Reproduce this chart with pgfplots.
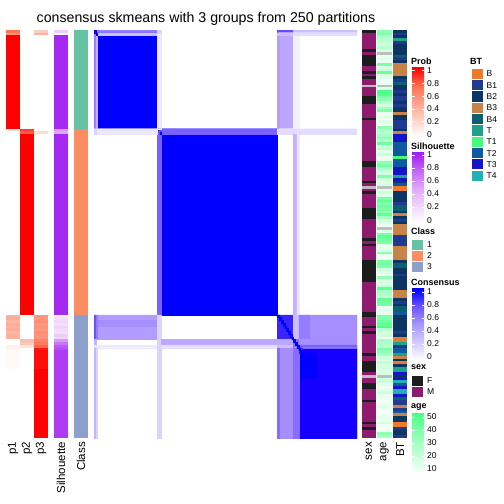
\documentclass[border=0pt]{standalone}
\usepackage{pgfplots}
\usepackage{pgfplotstable}
\pgfplotsset{compat=1.18}
\usepackage{fontspec}
\setmainfont{Liberation Sans}

\definecolor{cl1}{HTML}{66C2A5}
\definecolor{cl2}{HTML}{FC8D62}
\definecolor{cl3}{HTML}{8DA0CB}
\definecolor{sexF}{HTML}{1B1D1E}
\definecolor{sexM}{HTML}{8E1B6E}
\definecolor{naC}{HTML}{BEBEBE}
\definecolor{btB}{HTML}{F07A2A}
\definecolor{btB1}{HTML}{1F3A93}
\definecolor{btB2}{HTML}{0C3563}
\definecolor{btB3}{HTML}{C88446}
\definecolor{btB4}{HTML}{0A5F73}
\definecolor{btT}{HTML}{1FA088}
\definecolor{btT1}{HTML}{42FC7A}
\definecolor{btT2}{HTML}{0D5AA0}
\definecolor{btT3}{HTML}{1414C8}
\definecolor{btT4}{HTML}{1FB0B8}
% prob ramp
\definecolor{pr0}{HTML}{FFFFFF}
\definecolor{pr1}{HTML}{FFD2C6}
\definecolor{pr2}{HTML}{FFA38C}
\definecolor{pr3}{HTML}{FF6E50}
\definecolor{pr4}{HTML}{FF0000}
% silhouette ramp
\definecolor{si1}{HTML}{F2D6FC}
\definecolor{si2}{HTML}{DFA6F9}
\definecolor{si3}{HTML}{C566F5}
\definecolor{si4}{HTML}{A020F0}
% consensus ramp
\definecolor{co1}{HTML}{D4CAFF}
\definecolor{co2}{HTML}{A896FF}
\definecolor{co3}{HTML}{6E58FF}
\definecolor{co4}{HTML}{0000FF}
% age ramp
\definecolor{ag0}{HTML}{F4FFF7}
\definecolor{ag1}{HTML}{A6FFC4}
\definecolor{ag2}{HTML}{4BFF87}
% consensus block colours
\definecolor{C100}{HTML}{0000FF}
\definecolor{C95}{HTML}{1500FF}
\definecolor{C85}{HTML}{3A24FF}
\definecolor{C70}{HTML}{6A4CFF}
\definecolor{C65}{HTML}{7A60FF}
\definecolor{C60}{HTML}{876EFF}
\definecolor{C55}{HTML}{957CFF}
\definecolor{C50}{HTML}{A68EFF}
\definecolor{C45}{HTML}{B39CFF}
\definecolor{C40}{HTML}{BCA7FF}
\definecolor{C35}{HTML}{C5B3FF}
\definecolor{C30}{HTML}{CDBEFF}
\definecolor{C20}{HTML}{DCD2FF}
\definecolor{C15}{HTML}{E4DCFF}
\definecolor{C10}{HTML}{ECE6FF}
\definecolor{C05}{HTML}{F4F0FF}

\pgfdeclareverticalshading{probsh}{100bp}{color(0bp)=(pr0); color(25bp)=(pr0); color(37.5bp)=(pr1); color(50bp)=(pr2); color(62.5bp)=(pr3); color(75bp)=(pr4); color(100bp)=(pr4)}
\pgfdeclareverticalshading{silsh}{100bp}{color(0bp)=(white); color(25bp)=(white); color(37.5bp)=(si1); color(50bp)=(si2); color(62.5bp)=(si3); color(75bp)=(si4); color(100bp)=(si4)}
\pgfdeclareverticalshading{consh}{100bp}{color(0bp)=(white); color(25bp)=(white); color(37.5bp)=(co1); color(50bp)=(co2); color(62.5bp)=(co3); color(75bp)=(co4); color(100bp)=(co4)}
\pgfdeclareverticalshading{agesh}{100bp}{color(0bp)=(ag0); color(25bp)=(ag0); color(50bp)=(ag1); color(75bp)=(ag2); color(100bp)=(ag2)}

\pgfplotsset{
  colormap={probcm}{color(0pt)=(pr0) color(25pt)=(pr1) color(50pt)=(pr2) color(75pt)=(pr3) color(100pt)=(pr4)},
  colormap={silcm}{color(0pt)=(white) color(25pt)=(si1) color(50pt)=(si2) color(75pt)=(si3) color(100pt)=(si4)},
  colormap={agecm}{color(0pt)=(naC) color(16pt)=(naC) color(20pt)=(ag0) color(60pt)=(ag1) color(100pt)=(ag2)},
}

\pgfdeclareplotmark{cellA}{\pgfpathrectangle{\pgfqpoint{-7pt}{-1.45pt}}{\pgfqpoint{14pt}{2.9pt}}\pgfusepathqfill}
\pgfdeclareplotmark{cellB}{\pgfpathrectangle{\pgfqpoint{-7.15pt}{-1.45pt}}{\pgfqpoint{14.3pt}{2.9pt}}\pgfusepathqfill}

\pgfplotstableread{
i p1 p2 p3 sil cls sex age bt
0 0.72 0 0.28 0.30 1 F 35 B2
1 0.58 0 0.42 0.03 1 M 38 B1
2 1 0 0 0.97 1 M 30 B2
3 1 0 0 0.97 1 M 25 T
4 1 0 0 0.97 1 M 22 B1
5 1 0 0 0.97 1 M 20 B2
6 1 0 0 0.97 1 M 25 B2
7 1 0 0 0.97 1 F 18 B2
8 1 0 0 0.97 1 M 0 B2
9 1 0 0 0.97 1 F 12 B4
10 1 0 0 0.97 1 F 15 B1
11 1 0 0 0.97 1 F 12 B2
12 1 0 0 0.97 1 F 40 B3
13 1 0 0 0.97 1 M 15 B3
14 1 0 0 0.97 1 M 20 B3
15 1 0 0 0.97 1 F 42 B3
16 1 0 0 0.97 1 M 18 B3
17 1 0 0 0.97 1 F 15 B2
18 1 0 0 0.97 1 M 12 B1
19 1 0 0 0.97 1 M 14 B4
20 1 0 0 0.97 1 N 0 B2
21 1 0 0 0.97 1 M 15 B2
22 1 0 0 0.97 1 M 50 B1
23 1 0 0 0.97 1 M 48 B2
24 1 0 0 0.97 1 F 40 B1
25 1 0 0 0.97 1 F 35 B1
26 1 0 0 0.97 1 F 25 B2
27 1 0 0 0.97 1 M 20 B1
28 1 0 0 0.97 1 M 30 B2
29 1 0 0 0.97 1 M 38 B2
30 1 0 0 0.97 1 M 12 B3
31 1 0 0 0.97 1 M 14 B2
32 1 0 0 0.97 1 F 12 B2
33 1 0 0 0.97 1 M 15 B1
34 1 0 0 0.97 1 M 12 B1
35 1 0 0 0.97 1 M 35 B1
36 0.15 0.85 0 0.55 2 M 28 B2
37 0 0.8 0.2 0.5 2 M 25 B3
38 0 1 0 0.97 2 M 30 T3
39 0 1 0 0.97 2 M 35 T3
40 0 1 0 0.97 2 M 25 T3
41 0 1 0 0.97 2 M 42 T2
42 0 1 0 0.97 2 M 20 T2
43 0 1 0 0.97 2 M 25 T2
44 0 1 0 0.97 2 M 15 T2
45 0 1 0 0.97 2 M 20 T2
46 0 1 0 0.97 2 M 12 T1
47 0 1 0 0.97 2 M 13 T2
48 0 1 0 0.97 2 F 35 T2
49 0 1 0 0.97 2 F 40 T2
50 0 1 0 0.97 2 M 30 T3
51 0 1 0 0.97 2 M 22 T3
52 0 1 0 0.97 2 M 18 T3
53 0 1 0 0.97 2 M 38 T
54 0 1 0 0.97 2 M 20 T3
55 0 1 0 0.97 2 F 15 B2
56 0 1 0 0.97 2 M 18 T2
57 0 1 0 0.97 2 N 0 B
58 0 1 0 0.97 2 M 15 B
59 0 1 0 0.97 2 F 20 B2
60 0 1 0 0.97 2 M 15 B2
61 0 1 0 0.97 2 M 40 B2
62 0 1 0 0.97 2 M 45 B2
63 0 1 0 0.97 2 M 38 B1
64 0 1 0 0.97 2 M 42 B4
65 0 1 0 0.97 2 F 40 B4
66 0 1 0 0.97 2 F 35 B2
67 0 1 0 0.97 2 F 45 B3
68 0 1 0 0.97 2 F 30 B2
69 0 1 0 0.97 2 M 20 B1
70 0 1 0 0.97 2 M 15 B2
71 0 1 0 0.97 2 M 12 B3
72 0 1 0 0.97 2 M 0 B3
73 0 1 0 0.97 2 M 15 B3
74 0 1 0 0.97 2 M 40 B3
75 0 1 0 0.97 2 M 45 B1
76 0 1 0 0.97 2 F 42 B1
77 0 1 0 0.97 2 M 38 B1
78 0 1 0 0.97 2 F 15 B1
79 0 1 0 0.97 2 M 12 B3
80 0 1 0 0.97 2 M 18 B3
81 0 1 0 0.97 2 M 35 B3
82 0 1 0 0.97 2 M 12 B3
83 0 1 0 0.97 2 M 10 B3
84 0 1 0 0.97 2 F 40 B2
85 0 1 0 0.97 2 F 42 B4
86 0 1 0 0.97 2 F 38 B4
87 0 1 0 0.97 2 F 20 B2
88 0 1 0 0.97 2 F 15 B2
89 0 1 0 0.97 2 F 12 B1
90 0 1 0 0.97 2 F 35 B2
91 0 1 0 0.97 2 F 15 B2
92 0 1 0 0.97 2 M 18 B2
93 0 1 0 0.97 2 M 22 B2
94 0 1 0 0.97 2 M 45 B2
95 0 1 0 0.97 2 M 30 B3
96 0 1 0 0.97 2 M 28 B3
97 0 1 0 0.97 2 M 20 B3
98 0 1 0 0.97 2 M 45 B2
99 0 1 0 0.97 2 M 42 B1
100 0 1 0 0.97 2 M 40 B2
101 0 1 0 0.97 2 M 12 B4
102 0 1 0 0.97 2 M 15 B4
103 0 1 0 0.97 2 F 14 T2
104 0.42 0 0.58 0.10 3 F 40 B2
105 0.45 0 0.55 0.20 3 M 38 B2
106 0.40 0 0.60 0.25 3 M 42 B2
107 0.45 0 0.55 0.20 3 M 45 B2
108 0.42 0 0.58 0.28 3 F 50 B2
109 0.45 0 0.55 0.22 3 M 25 B2
110 0.40 0 0.60 0.20 3 F 18 B1
111 0.43 0 0.57 0.30 3 M 20 B2
112 0.42 0 0.58 0.25 3 M 10 B
113 0 0.35 0.65 0.55 3 M 30 B3
114 0 0.30 0.70 0.70 3 M 28 T
115 0.08 0.15 0.77 0.80 3 M 25 B1
116 0.05 0 0.95 0.85 3 M 40 T2
117 0.03 0 0.97 0.9 3 M 35 T2
118 0.03 0 0.97 0.9 3 F 30 T
119 0.03 0 0.97 0.9 3 M 20 B3
120 0.03 0 0.97 0.9 3 M 15 B2
121 0.03 0 0.97 0.9 3 F 22 B
122 0.03 0 0.97 0.9 3 F 18 B2
123 0.03 0 0.97 0.9 3 F 20 T
124 0 0 1 0.9 3 F 15 T
125 0 0 1 0.9 3 M 18 T3
126 0 0 1 0.9 3 N 0 B2
127 0 0 1 0.9 3 M 18 T3
128 0 0 1 0.9 3 M 20 T4
129 0 0 1 0.9 3 F 15 T2
130 0 0 1 0.9 3 F 12 T3
131 0 0 1 0.9 3 M 15 T4
132 0 0 1 0.9 3 M 20 T4
133 0 0 1 0.9 3 M 14 T3
134 0 0 1 0.9 3 M 12 B4
135 0 0 1 0.9 3 F 10 B1
136 0 0 1 0.9 3 M 12 B1
137 0 0 1 0.9 3 M 15 B3
138 0 0 1 0.9 3 M 12 B1
139 0 0 1 0.9 3 M 10 T2
140 0 0 1 0.9 3 M 12 B3
141 0 0 1 0.9 3 M 14 B2
142 0 0 1 0.9 3 M 12 B2
143 0 0 1 0.9 3 F 18 B
144 0 0 1 0.9 3 M 12 B
145 0 0 1 0.9 3 F 10 B1
146 0 0 1 0.9 3 M 12 B2
147 0 0 1 0.9 3 M 35 B2
148 0 0 1 0.9 3 M 30 B1
}\datatab

\newcommand{\blk}[5]{\addplot[draw=#5,line width=0.15pt,fill=#5] coordinates {(#1,#3) (#2,#3) (#2,#4) (#1,#4) (#1,#3)};}
\newcommand{\tfont}{\fontsize{9}{10}\selectfont\bfseries}
\newcommand{\lfont}{\fontsize{8.5}{10}\selectfont}

\begin{document}
\begin{tikzpicture}
\begin{axis}[at={(0pt,0pt)}, anchor=south west, width=504pt, height=504pt, scale only axis,
  xmin=0, xmax=504, ymin=0, ymax=504, y dir=reverse, hide axis, clip=false,
  point meta min=0, point meta max=1]
\addplot[scatter, only marks, mark=cellA, colormap name=probcm, point meta=explicit]
  table[x expr=13, y expr=30+(\thisrow{i}+0.5)*2.7383, meta=p1] {\datatab};
\addplot[scatter, only marks, mark=cellA, colormap name=probcm, point meta=explicit]
  table[x expr=27, y expr=30+(\thisrow{i}+0.5)*2.7383, meta=p2] {\datatab};
\addplot[scatter, only marks, mark=cellA, colormap name=probcm, point meta=explicit]
  table[x expr=41, y expr=30+(\thisrow{i}+0.5)*2.7383, meta=p3] {\datatab};
\addplot[scatter, only marks, mark=cellA, colormap name=silcm, point meta=explicit]
  table[x expr=61, y expr=30+(\thisrow{i}+0.5)*2.7383, meta=sil] {\datatab};
\addplot[scatter, only marks, mark=cellA, point meta=explicit symbolic,
  scatter/classes={1={fill=cl1},2={fill=cl2},3={fill=cl3}}]
  table[x expr=81, y expr=30+(\thisrow{i}+0.5)*2.7383, meta=cls] {\datatab};
\addplot[scatter, only marks, mark=cellB, point meta=explicit symbolic,
  scatter/classes={F={fill=sexF},M={fill=sexM},N={fill=naC}}]
  table[x expr=368.9, y expr=30+(\thisrow{i}+0.5)*2.7383, meta=sex] {\datatab};
\addplot[scatter, only marks, mark=cellB, colormap name=agecm, point meta={\thisrow{age}/50}]
  table[x expr=384.4, y expr=30+(\thisrow{i}+0.5)*2.7383] {\datatab};
\addplot[scatter, only marks, mark=cellB, point meta=explicit symbolic,
  scatter/classes={B={fill=btB},B1={fill=btB1},B2={fill=btB2},B3={fill=btB3},B4={fill=btB4},
    T={fill=btT},T1={fill=btT1},T2={fill=btT2},T3={fill=btT3},T4={fill=btT4}}]
  table[x expr=400.2, y expr=30+(\thisrow{i}+0.5)*2.7383, meta=bt] {\datatab};
\end{axis}

\begin{axis}[at={(94pt,66pt)}, anchor=south west, width=263pt, height=408pt, scale only axis,
  xmin=0, xmax=149, ymin=0, ymax=149, y dir=reverse, hide axis]
\blk{0}{36}{0}{36}{C100}
\blk{36}{104}{36}{104}{C100}
\blk{116}{149}{116}{149}{C95}
\blk{117}{126}{118}{127}{C100}
\blk{1}{36}{0}{1}{C55}
\blk{0}{1}{1}{36}{C55}
\blk{2}{36}{1}{2}{C30}
\blk{1}{2}{2}{36}{C35}
\blk{0}{1}{0}{1}{C100}
\blk{1}{2}{1}{2}{C100}
\blk{38}{104}{36}{38}{C65}
\blk{36}{38}{38}{104}{C65}
\blk{36}{37}{36}{37}{C100}
\blk{37}{38}{37}{38}{C100}
\blk{36}{37}{37}{38}{C70}
\blk{37}{38}{36}{37}{C70}
\blk{36}{38}{0}{36}{C10}
\blk{0}{36}{36}{38}{C10}
\blk{36}{38}{0}{1}{C20}
\blk{0}{1}{36}{38}{C20}
\blk{104}{113}{2}{36}{C40}
\blk{104}{105}{2}{36}{C45}
\blk{104}{113}{0}{1}{C70}
\blk{104}{113}{1}{2}{C30}
\blk{113}{116}{2}{36}{C05}
\blk{113}{116}{0}{1}{C30}
\blk{113}{116}{1}{2}{C15}
\blk{116}{149}{0}{1}{C30}
\blk{116}{149}{1}{2}{C15}
\blk{0}{36}{104}{113}{C45}
\blk{0}{36}{106}{108}{C50}
\blk{0}{1}{104}{113}{C70}
\blk{1}{2}{104}{113}{C55}
\blk{0}{1}{113}{115}{C35}
\blk{0}{36}{115}{116}{C10}
\blk{0}{1}{116}{149}{C35}
\blk{1}{2}{116}{149}{C20}
\blk{104}{149}{36}{38}{C15}
\blk{36}{38}{104}{149}{C20}
\blk{113}{115}{38}{104}{C35}
\blk{115}{116}{38}{104}{C10}
\blk{38}{104}{113}{115}{C40}
\blk{38}{104}{115}{116}{C15}
\blk{104}{113}{104}{113}{C85}
\blk{113}{116}{104}{113}{C30}
\blk{116}{149}{104}{113}{C50}
\blk{116}{122}{104}{113}{C55}
\blk{104}{113}{113}{115}{C40}
\blk{104}{113}{115}{116}{C30}
\blk{113}{116}{113}{116}{C60}
\blk{116}{149}{113}{115}{C50}
\blk{116}{149}{115}{116}{C65}
\blk{104}{113}{116}{149}{C50}
\blk{104}{105}{116}{149}{C60}
\blk{113}{116}{116}{149}{C60}
\blk{116}{118}{116}{118}{C85}
\blk{104}{105}{104}{105}{C100}
\blk{105}{106}{105}{106}{C100}
\blk{106}{107}{106}{107}{C100}
\blk{107}{108}{107}{108}{C100}
\blk{108}{109}{108}{109}{C100}
\blk{109}{110}{109}{110}{C100}
\blk{110}{111}{110}{111}{C100}
\blk{111}{112}{111}{112}{C100}
\blk{112}{113}{112}{113}{C100}
\blk{113}{114}{113}{114}{C100}
\blk{114}{115}{114}{115}{C100}
\blk{115}{116}{115}{116}{C100}
\blk{116}{117}{116}{117}{C100}
\blk{117}{118}{117}{118}{C100}
\end{axis}

\begin{scope}[x=1pt, y=-1pt, shift={(0pt,504pt)}]
\node[font=\fontsize{14.2}{16}\selectfont] at (206,18.5) {consensus skmeans with 3 groups from 250 partitions};
\foreach \xx/\tt in {13/p1,27/p2,41/p3,61/Silhouette,81/Class,368.9/sex,384.4/age,400.2/BT}{
  \node[rotate=90, anchor=east, font=\fontsize{11.5}{13}\selectfont, inner sep=0pt] at (\xx,442) {\tt};
}
\node[anchor=west, inner sep=0pt, font=\tfont] at (411,61) {Prob};
\shade[shading=probsh] (412,137) rectangle (424,68);
\node[anchor=west, inner sep=0pt, font=\tfont] at (411,146) {Silhouette};
\shade[shading=silsh] (412,223) rectangle (424,153);
\node[anchor=west, inner sep=0pt, font=\tfont] at (411,282) {Consensus};
\shade[shading=consh] (412,360) rectangle (424,289);
\node[anchor=west, inner sep=0pt, font=\tfont] at (411,407) {age};
\shade[shading=agesh] (412,472) rectangle (424,414);
\foreach \yy/\lab in {70.5/1,83.3/0.8,96.1/0.6,108.9/0.4,121.7/0.2,134.5/0,
  155/1,168/0.8,181/0.6,194/0.4,207/0.2,220.5/0,
  292/1,305/0.8,318/0.6,331/0.4,344/0.2,357/0,
  417/50,430/40,443/30,456/20,469/10}{
  \draw[white, line width=0.6pt] (412,\yy) -- (414.5,\yy);
  \draw[white, line width=0.6pt] (421.5,\yy) -- (424,\yy);
  \node[anchor=west, inner sep=0pt, font=\lfont] at (427,\yy) {\lab};
}
\node[anchor=west, inner sep=0pt, font=\tfont] at (411,231) {Class};
\foreach \yy/\cc/\lab in {245/cl1/1,256/cl2/2,267/cl3/3}{
  \fill[\cc] (412,\yy-5.2) rectangle (423,\yy+5.2);
  \node[anchor=west, inner sep=0pt, font=\lfont] at (427,\yy) {\lab};
}
\node[anchor=west, inner sep=0pt, font=\tfont] at (411,367) {sex};
\foreach \yy/\cc/\lab in {381/sexF/F,392/sexM/M}{
  \fill[\cc] (412,\yy-5.2) rectangle (423,\yy+5.2);
  \node[anchor=west, inner sep=0pt, font=\lfont] at (427,\yy) {\lab};
}
\node[anchor=west, inner sep=0pt, font=\tfont] at (470,61) {BT};
\foreach \yy/\cc/\lab in {74/btB/B,85.3/btB1/B1,96.6/btB2/B2,107.9/btB3/B3,119.2/btB4/B4,
  130.5/btT/T,141.8/btT1/T1,153.1/btT2/T2,164.4/btT3/T3,175.7/btT4/T4}{
  \fill[\cc] (472,\yy-5.1) rectangle (482.5,\yy+5.1);
  \node[anchor=west, inner sep=0pt, font=\lfont] at (486.5,\yy) {\lab};
}
\end{scope}
\pgfresetboundingbox
\path[use as bounding box] (0pt,0pt) rectangle (504pt,504pt);
\end{tikzpicture}
\end{document}
